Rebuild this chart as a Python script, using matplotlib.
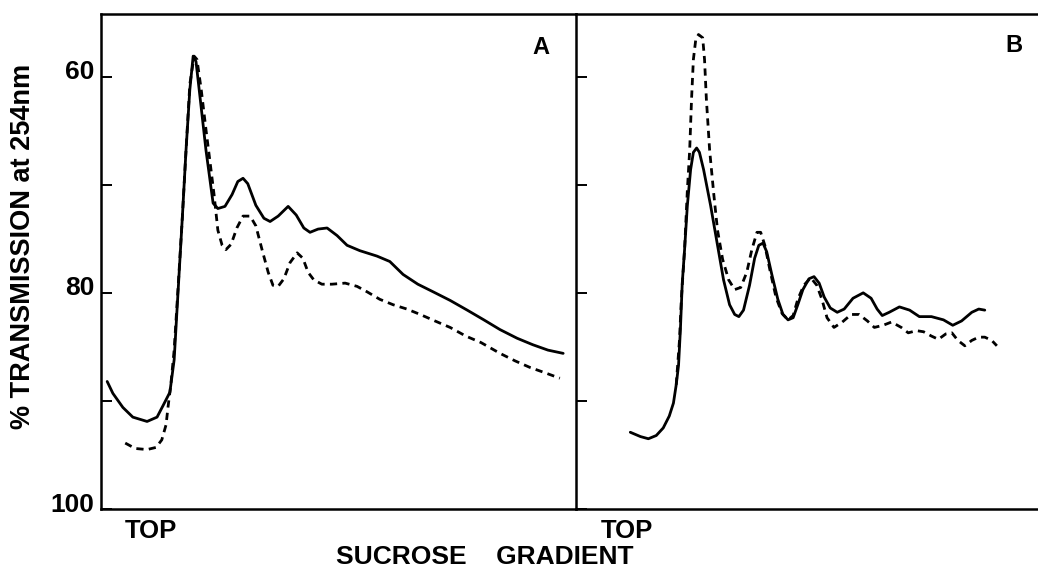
#!/usr/bin/env python3
"""Sucrose gradient profiles (% transmission at 254 nm), panels A and B."""

import matplotlib

matplotlib.use("Agg")
import matplotlib.pyplot as plt
from matplotlib.transforms import ScaledTranslation

plt.rcParams["font.family"] = ["Liberation Sans", "DejaVu Sans"]

# gradient position, 0-100 across each panel (top of gradient on the left)
A_SOLID_X = [1.3, 2.5, 4.6, 6.7, 9.7, 11.8, 13.1, 14.5, 15.4, 16.0, 17.1, 17.9, 18.7, 19.4,
             20.0, 20.8, 22.1, 23.6, 24.6, 26.1, 27.6, 28.8, 29.9, 30.9, 32.6, 34.3, 35.6,
             37.3, 39.4, 41.1, 42.7, 44.0, 45.7, 47.6, 49.7, 51.8, 54.5, 58.1, 60.8, 63.6,
             66.7, 69.9, 73.5, 77.1, 80.6, 84.0, 87.6, 90.9, 94.1, 97.3]
A_SOLID_Y = [88.2, 89.3, 90.6, 91.5, 91.9, 91.5, 90.4, 89.2, 86.2, 81.6, 73.2, 66.8, 61.2, 58.1,
             58.6, 61.7, 66.8, 71.7, 72.2, 72.0, 70.9, 69.7, 69.4, 69.9, 71.9, 73.1, 73.4,
             72.9, 72.0, 72.8, 74.0, 74.4, 74.1, 74.0, 74.7, 75.6, 76.1, 76.6, 77.1, 78.3,
             79.2, 79.9, 80.7, 81.6, 82.5, 83.4, 84.2, 84.8, 85.3, 85.6]

A_DASH_X = [5.1, 7.2, 9.7, 11.6, 12.8, 13.7, 14.1, 14.7, 15.4, 16.2, 17.1, 17.9, 18.7, 19.6,
            20.2, 21.1, 22.1, 22.9, 23.8, 24.6, 25.5, 26.3, 27.4, 28.6, 29.9, 31.4, 32.6,
            33.9, 35.2, 36.2, 37.3, 38.5, 39.8, 41.3, 42.5, 43.6, 44.8, 46.5, 48.6, 51.4,
            53.9, 56.0, 58.7, 61.5, 64.4, 67.2, 70.3, 73.5, 76.8, 80.0, 84.0, 87.2, 90.3,
            93.5, 96.6]
A_DASH_Y = [93.9, 94.4, 94.5, 94.3, 93.6, 92.2, 90.6, 88.5, 85.3, 79.7, 73.2, 66.8, 60.7, 58.1,
            58.4, 61.2, 64.9, 67.7, 70.9, 74.2, 75.6, 76.0, 75.5, 74.0, 72.9, 72.9, 73.8,
            76.0, 78.1, 79.3, 79.4, 78.7, 77.2, 76.3, 76.8, 78.1, 78.8, 79.2, 79.2, 79.1,
            79.4, 79.9, 80.6, 81.1, 81.5, 82.0, 82.6, 83.2, 84.0, 84.6, 85.6, 86.3, 86.9,
            87.4, 87.9]

B_SOLID_X = [11.7, 13.9, 15.6, 17.3, 18.8, 20.1, 21.0, 21.6, 22.1, 22.5, 22.9, 23.4, 24.0,
             24.7, 25.3, 26.0, 26.6, 27.5, 29.0, 30.5, 31.8, 33.1, 34.2, 35.1, 36.1, 37.4,
             38.5, 39.4, 40.3, 41.1, 42.2, 43.5, 44.6, 45.7, 46.8, 47.8, 48.9, 50.2, 51.3,
             52.4, 53.5, 54.8, 56.3, 57.8, 59.7, 61.9, 63.6, 64.9, 66.0, 67.5, 69.7, 71.9,
             74.0, 76.6, 79.2, 81.2, 83.1, 85.3, 86.8, 88.1]
B_SOLID_Y = [92.9, 93.3, 93.5, 93.2, 92.5, 91.4, 90.2, 88.5, 86.7, 83.4, 79.1, 76.0, 71.9,
             68.6, 67.0, 66.6, 67.0, 68.6, 71.9, 75.6, 78.8, 81.1, 82.0, 82.2, 81.6, 79.3,
             76.8, 75.6, 75.4, 76.2, 78.3, 80.6, 82.0, 82.5, 82.3, 81.1, 79.7, 78.7, 78.5,
             79.1, 80.4, 81.4, 81.8, 81.5, 80.5, 80.0, 80.5, 81.5, 82.1, 81.8, 81.3, 81.6,
             82.2, 82.2, 82.5, 83.0, 82.6, 81.8, 81.5, 81.6]

B_DASH_X = [21.6, 22.3, 22.7, 23.4, 24.0, 24.5, 24.9, 25.3, 25.8, 26.4, 27.3, 27.7, 28.1,
            28.8, 29.7, 30.5, 31.6, 32.9, 34.2, 35.5, 36.8, 37.9, 39.0, 39.8, 40.7, 41.8,
            43.1, 44.4, 45.7, 46.8, 47.8, 49.1, 50.6, 51.9, 53.0, 54.1, 55.6, 57.4, 59.3,
            61.0, 62.8, 64.3, 66.2, 68.0, 70.1, 71.6, 73.4, 74.9, 76.6, 78.1, 79.7, 81.0,
            82.3, 83.8, 85.3, 86.8, 88.1, 89.6, 90.7]
B_DASH_Y = [88.5, 84.4, 80.6, 76.0, 70.5, 66.8, 62.1, 58.4, 56.6, 56.1, 56.4, 58.4, 62.1,
            66.8, 70.9, 74.2, 76.9, 78.8, 79.7, 79.5, 78.1, 76.0, 74.4, 74.4, 75.6, 77.9,
            80.4, 81.9, 82.5, 82.1, 80.6, 79.3, 78.6, 79.3, 80.6, 82.3, 83.2, 82.7, 82.0,
            82.0, 82.6, 83.2, 83.0, 82.7, 83.2, 83.7, 83.5, 83.6, 84.0, 84.3, 83.8, 83.7,
            84.4, 84.9, 84.4, 84.1, 84.1, 84.4, 84.9]

Y_TICKS = [60, 70, 80, 90, 100]
Y_TICK_LABELS = ["60", "", "80", "", "100"]

W, H = 1038, 576
fig = plt.figure(figsize=(W / 100, H / 100), dpi=100)


def px_rect(x0, x1, y_top, y_bottom):
    return [x0 / W, 1 - y_bottom / H, (x1 - x0) / W, (y_bottom - y_top) / H]


ax_a = fig.add_axes(px_rect(101, 576, 14, 509))
ax_b = fig.add_axes(px_rect(576, 1040, 14, 509))

solid = dict(color="black", linewidth=2.0, solid_capstyle="round", solid_joinstyle="round")
dashed = dict(color="black", linewidth=2.0, linestyle=(0, (2.6, 1.9)),
              dash_joinstyle="round")

ax_a.plot(A_SOLID_X, A_SOLID_Y, **solid)
ax_a.plot(A_DASH_X, A_DASH_Y, **dashed)
ax_b.plot(B_SOLID_X, B_SOLID_Y, **solid)
ax_b.plot(B_DASH_X, B_DASH_Y, **dashed)

for ax in (ax_a, ax_b):
    ax.set_xlim(0, 100)
    ax.set_ylim(100.0, 54.2)
    ax.set_xticks([])
    ax.set_yticks(Y_TICKS)
    ax.tick_params(axis="y", direction="in", length=8, width=1.4, pad=4.5,
                   labelsize=19)
    for side in ("left", "top", "bottom", "right"):
        ax.spines[side].set_linewidth(1.8)

ax_a.set_yticklabels(Y_TICK_LABELS)
for lab in ax_a.get_yticklabels():
    lab.set_fontweight("bold")
    lab.set_transform(lab.get_transform() + ScaledTranslation(0, 5 / 72, fig.dpi_scale_trans))
ax_a.spines["right"].set_visible(False)
ax_b.set_yticklabels([])
ax_b.spines["right"].set_visible(False)

fig.text(541 / W, 1 - 48 / H, "A", fontsize=17, fontweight="bold", ha="center", va="center")
fig.text(1014 / W, 1 - 45 / H, "B", fontsize=17, fontweight="bold", ha="center", va="center")
fig.text(151 / W, 1 - 531 / H, "TOP", fontsize=18.5, fontweight="bold", ha="center", va="center")
fig.text(627 / W, 1 - 531 / H, "TOP", fontsize=18.5, fontweight="bold", ha="center", va="center")
fig.text(485 / W, 1 - 557 / H, "SUCROSE    GRADIENT", fontsize=19, fontweight="bold",
         ha="center", va="center")
fig.text(23 / W, 1 - 246 / H, "% TRANSMISSION at 254nm", fontsize=19.5, fontweight="bold",
         rotation=90, ha="center", va="center")

fig.savefig("out.png", dpi=100)
